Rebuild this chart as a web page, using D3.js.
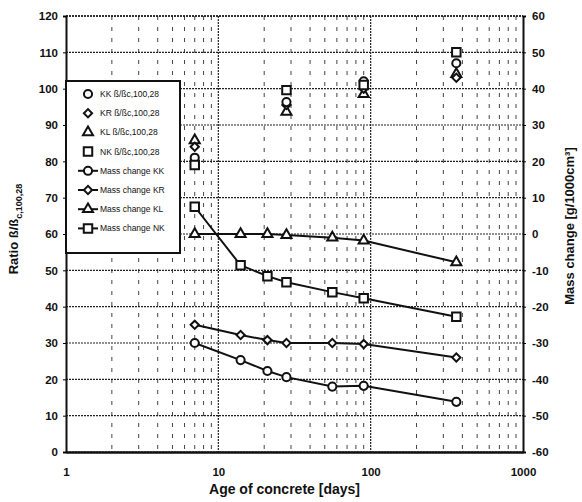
<!DOCTYPE html>
<html>
<head>
<meta charset="utf-8">
<script src="https://cdn.jsdelivr.net/npm/d3@7"></script>
<style>
  body { margin: 0; background: #fff; }
  text { font-family: "Liberation Sans", Arial, sans-serif; font-weight: bold; fill: #111; }
</style>
</head>
<body>
<div id="chart"></div>
<script>
// ratio beta/beta_c,100,28 (left axis), by age
var ratioDays = [7, 28, 90, 365];
var ratioKK = [81, 96.3, 102, 107];
var ratioKR = [84, 95.5, 100, 103];
var ratioKL = [85.8, 93.6, 98.5, 104];
var ratioNK = [79, 99.6, 101, 110];

// mass change [g/1000cm3] (right axis), by age
var massDays = [7, 14, 21, 28, 56, 90, 365];
var massKK = [-30, -34.7, -37.7, -39.4, -42, -41.8, -46.2];
var massKR = [-25, -27.8, -29.2, -30, -30, -30.3, -34];
var massKL = [0, 0, 0, -0.3, -1, -1.8, -7.8];
var massNK = [7.5, -8.6, -11.6, -13.3, -16, -17.7, -22.8];

var xTicks = [1, 10, 100, 1000];
var leftTicks = d3.range(0, 121, 10);
var rightTicks = d3.range(-60, 61, 10);

var legendLabels = ["KK ß/ßc,100,28", "KR ß/ßc,100,28", "KL ß/ßc,100,28", "NK ß/ßc,100,28",
  "Mass change KK", "Mass change KR", "Mass change KL", "Mass change NK"];

var margin = {top: 16, right: 59, bottom: 50, left: 66},
    width = 582 - margin.left - margin.right,
    height = 502 - margin.top - margin.bottom;

var svg = d3.select("#chart").append("svg")
    .attr("width", 582)
    .attr("height", 502)
  .append("g")
    .attr("transform", "translate(" + margin.left + "," + margin.top + ")");

var x = d3.scaleLog().domain([1, 1000]).range([0, width]);
var yL = d3.scaleLinear().domain([0, 120]).range([height, 0]);
var yR = d3.scaleLinear().domain([-60, 60]).range([height, 0]);

// minor vertical grid
var minor = [];
[1, 10, 100].forEach(function(d) {
  for (var k = 2; k <= 9; k++) minor.push(d * k);
});
svg.selectAll(".minor").data(minor).enter().append("line")
    .attr("x1", function(d) { return x(d); })
    .attr("x2", function(d) { return x(d); })
    .attr("y1", 0).attr("y2", height)
    .attr("stroke", "#444").attr("stroke-width", 1)
    .attr("stroke-dasharray", "4,7");

// major grid
svg.selectAll(".vmaj").data([10, 100]).enter().append("line")
    .attr("x1", function(d) { return x(d); })
    .attr("x2", function(d) { return x(d); })
    .attr("y1", 0).attr("y2", height)
    .attr("stroke", "#222").attr("stroke-width", 1.2)
    .attr("stroke-dasharray", "2,1");
svg.selectAll(".hmaj").data(leftTicks).enter().append("line")
    .attr("x1", 0).attr("x2", width)
    .attr("y1", function(d) { return yL(d); })
    .attr("y2", function(d) { return yL(d); })
    .attr("stroke", "#222").attr("stroke-width", 1.2)
    .attr("stroke-dasharray", "2,1");

// axes
var axL = svg.append("g")
    .call(d3.axisLeft(yL).tickValues(leftTicks).tickSize(3).tickPadding(5));
var axR = svg.append("g").attr("transform", "translate(" + width + ",0)")
    .call(d3.axisRight(yR).tickValues(rightTicks).tickSize(3).tickPadding(6)
      .tickFormat(function(d) { return d; }));
var axB = svg.append("g").attr("transform", "translate(0," + height + ")")
    .call(d3.axisBottom(x).tickValues(xTicks).tickSize(0).tickPadding(16)
      .tickFormat(function(d) { return d; }));
[axL, axR, axB].forEach(function(a) {
  a.selectAll("text").style("font-size", "11.5px").style("font-weight", "bold")
    .style("font-family", "Liberation Sans, Arial, sans-serif").attr("fill", "#111");
  a.select(".domain").attr("stroke", "#111").attr("stroke-width", 2);
});
axB.select(".domain").attr("stroke-width", 2.5);

// frame top
svg.append("line").attr("x1", 0).attr("x2", width).attr("y1", 0).attr("y2", 0)
    .attr("stroke", "#111").attr("stroke-width", 1.5).attr("stroke-dasharray", "2,1");

// titles
svg.append("text")
    .attr("x", width / 2 - 10).attr("y", height + 42)
    .attr("text-anchor", "middle").style("font-size", "14px")
    .text("Age of concrete [days]");

var lt = svg.append("text")
    .attr("transform", "translate(" + (-48) + "," + (height / 2 - 5) + ") rotate(-90)")
    .attr("text-anchor", "middle").style("font-size", "13px");
lt.append("tspan").text("Ratio ß/ß");
lt.append("tspan").attr("dy", 4).style("font-size", "9px").text("c,100,28");

svg.append("text")
    .attr("transform", "translate(" + (width + 51) + "," + (height / 2 - 8) + ") rotate(-90)")
    .attr("text-anchor", "middle").style("font-size", "13px")
    .text("Mass change [g/1000cm³]");

// markers: circle, diamond (rotated square), triangle, square
var shapes = [d3.symbolCircle, d3.symbolSquare, d3.symbolTriangle, d3.symbolSquare];
var sizes = [52, 34, 44, 72];
var rot = [0, 45, 0, 0];

function marker(g, si, cx, cy) {
  g.append("path")
    .attr("d", d3.symbol().type(shapes[si]).size(sizes[si]))
    .attr("transform", "translate(" + cx + "," + cy + ") rotate(" + rot[si] + ")")
    .attr("fill", "#fff").attr("stroke", "#111").attr("stroke-width", 2);
}

// mass change lines
var massSeries = [massKK, massKR, massKL, massNK];
var line = d3.line()
    .x(function(d) { return x(d[0]); })
    .y(function(d) { return yR(d[1]); });
massSeries.forEach(function(s, si) {
  var pts = massDays.map(function(d, i) { return [d, s[i]]; });
  svg.append("path").datum(pts).attr("d", line)
    .attr("fill", "none").attr("stroke", "#111").attr("stroke-width", 2);
  pts.forEach(function(p) { marker(svg, si, x(p[0]), yR(p[1])); });
});

// ratio points
var ratioSeries = [ratioKL, ratioKR, ratioKK, ratioNK];
var ratioShape = [2, 1, 0, 3];
ratioSeries.forEach(function(s, k) {
  ratioDays.forEach(function(d, i) {
    marker(svg, ratioShape[k], x(d), yL(s[i]));
  });
});

// legend
var lg = svg.append("g").attr("transform", "translate(0,65)");
lg.append("rect").attr("x", 0).attr("y", 0).attr("width", 114).attr("height", 172)
    .attr("fill", "#fff").attr("stroke", "#111").attr("stroke-width", 2);
legendLabels.forEach(function(t, i) {
  var yy = 13 + i * 19.2;
  var si = i % 4;
  if (i >= 4) {
    lg.append("line").attr("x1", 12).attr("x2", 32).attr("y1", yy).attr("y2", yy)
      .attr("stroke", "#111").attr("stroke-width", 2);
  }
  marker(lg, si, 22, yy);
  lg.append("text").attr("x", 34).attr("y", yy + 3)
    .style("font-family", "Liberation Sans Narrow, Liberation Sans, Arial, sans-serif")
    .style("font-size", "8.5px").style("font-weight", "normal").text(t);
});
</script>
</body>
</html>
